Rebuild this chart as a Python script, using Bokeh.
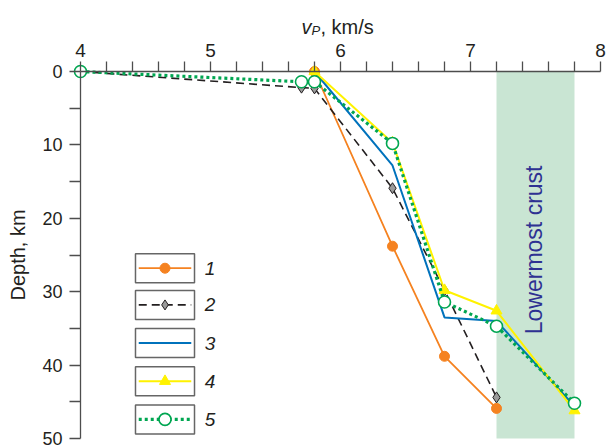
from bokeh.plotting import figure
from bokeh.models import Range1d, Label, FixedTicker
from bokeh.embed import file_html
from bokeh.resources import INLINE
from bokeh.core.properties import value

# ---- data ----
vel1 = [5.8, 6.4, 6.8, 7.2]
dep1 = [0.0, 23.8, 38.8, 45.9]
vel2 = [4.0, 5.7, 5.8, 6.4, 6.8, 7.2]
dep2 = [0.0, 2.2, 2.3, 15.9, 29.8, 44.4]
vel3 = [5.8, 6.4, 6.8, 7.2, 7.8]
dep3 = [0.0, 12.8, 33.5, 34.0, 45.6]
vel4 = [5.8, 6.4, 6.8, 7.2, 7.8]
dep4 = [0.0, 9.7, 29.8, 32.6, 46.2]
vel5 = [4.0, 5.7, 5.8, 6.4, 6.8, 7.2, 7.8]
dep5 = [0.0, 1.4, 1.4, 9.8, 31.4, 34.7, 45.2]

band_left = [7.2]
band_right = [7.8]
band_top = [0.0]
band_bottom = [50.0]

x_ticks = [4, 5, 6, 7, 8]
x_minor = [4.2, 4.4, 4.6, 4.8, 5.2, 5.4, 5.6, 5.8, 6.2, 6.4, 6.6, 6.8, 7.2, 7.4, 7.6, 7.8]
y_ticks = [0, 10, 20, 30, 40, 50]
y_minor = [5, 15, 25, 35, 45]
legend_labels = ["1", "2", "3", "4", "5"]

FONT = "Liberation Sans"
ORANGE = "#f58220"
BLACK = "#231f20"
BLUE = "#0072bc"
YELLOW = "#fff200"
GREEN = "#00a651"
AXIS = "#4d4d4d"

W, H = 610, 447
# axis box in pixels: x 4..8 -> 80..600, depth 0..50 -> 71..438
px_x0, px_x1, px_y0, px_y1 = 80.0, 600.0, 71.0, 438.0
sx = (px_x1 - px_x0) / 4.0
sy = (px_y1 - px_y0) / 50.0
xr = Range1d(4 - px_x0 / sx, 4 + (W - px_x0) / sx)
yr = Range1d((H - px_y0) / sy, -px_y0 / sy)

p = figure(width=W, height=H, output_backend="svg", toolbar_location=None,
           x_axis_location="above", x_range=xr, y_range=yr,
           min_border_left=0, min_border_right=0, min_border_top=0, min_border_bottom=0)
p.outline_line_color = None
p.grid.visible = False
p.background_fill_color = "white"
p.border_fill_color = "white"

# band
p.quad(left=band_left, right=band_right, top=band_top, bottom=band_bottom,
       fill_color="#c9e5d3", line_color=None, level="underlay")

# axes (fixed inside the full-canvas frame)
xa = p.xaxis[0]
xa.ticker = FixedTicker(ticks=x_ticks, minor_ticks=x_minor)
xa.fixed_location = 0
xa.bounds = (4, 8)
ya = p.yaxis[0]
ya.ticker = FixedTicker(ticks=y_ticks, minor_ticks=y_minor)
ya.fixed_location = 4
ya.bounds = (0, 50)
for ax in (xa, ya):
    ax.axis_line_color = AXIS
    ax.axis_line_width = 1.3
    ax.major_tick_line_color = AXIS
    ax.minor_tick_line_color = AXIS
    ax.major_tick_line_width = 1.3
    ax.minor_tick_line_width = 1.3
    ax.major_tick_in = 0
    ax.minor_tick_in = 0
    ax.major_label_text_font = FONT
    ax.major_label_text_color = BLACK
xa.major_label_text_font_size = "19px"
ya.major_label_text_font_size = "18px"
xa.major_tick_out = 10
xa.minor_tick_out = 10
xa.major_label_standoff = 5
ya.major_tick_out = 11
ya.minor_tick_out = 11
ya.major_label_standoff = 7
ya.axis_label = "Depth, km"
ya.axis_label_text_font = FONT
ya.axis_label_text_font_size = "20px"
ya.axis_label_text_font_style = "normal"
ya.axis_label_text_color = BLACK
ya.axis_label_standoff = 10

# series
p.line(vel1, dep1, line_color=ORANGE, line_width=1.8)
p.scatter(vel1, dep1, marker="circle", size=10, fill_color=ORANGE, line_color=ORANGE)

p.line(vel2, dep2, line_color=BLACK, line_width=1.6, line_dash="8 5")
p.scatter(vel2, dep2, marker="diamond", size=11, fill_color="#9a9a9a", line_color=BLACK, line_width=1)

p.line(vel3, dep3, line_color=BLUE, line_width=2)

p.line(vel4, dep4, line_color=YELLOW, line_width=2)
p.scatter(vel4, dep4, marker="triangle", size=11, fill_color=YELLOW, line_color=YELLOW)

p.line(vel5, dep5, line_color=GREEN, line_width=3.2, line_dash="3 3")
p.scatter(vel5, dep5, marker="circle", size=12, fill_color="white", line_color=GREEN, line_width=1.6)

# band label
p.add_layout(Label(x=7.49, y=24.3, text="Lowermost crust", angle=1.5708,
                   text_align="center", text_baseline="middle",
                   text_font=FONT, text_font_size="23px", text_color="#2e3192"))

# x-axis title  v_P, km/s
p.add_layout(Label(x=5.70, y=-6.0, text="v", text_font=FONT, text_font_size="20px",
                   text_font_style="italic", text_color=BLACK, text_baseline="alphabetic"))
p.add_layout(Label(x=5.777, y=-5.6, text="P", text_font=FONT, text_font_size="13px",
                   text_font_style="italic", text_color=BLACK, text_baseline="alphabetic"))
p.add_layout(Label(x=5.846, y=-6.0, text=", km/s", text_font=FONT, text_font_size="20px",
                   text_color=BLACK, text_baseline="alphabetic"))

# legend (drawn manually)
leg_x0, leg_x1 = 4.423, 4.877
leg_xc = (leg_x0 + leg_x1) / 2
leg_y = [26.8, 31.8, 37.0, 42.2, 47.4]
leg_h = 3.95
leg_w = leg_x1 - leg_x0
p.rect(x=[leg_xc] * 5, y=leg_y, width=leg_w, height=leg_h,
       fill_color="white", line_color="#666666", line_width=1.5)
lx = [leg_x0 + 0.025, leg_x1 - 0.025]
styles = [
    dict(line_color=ORANGE, line_width=1.8),
    dict(line_color=BLACK, line_width=1.6, line_dash="8 5"),
    dict(line_color=BLUE, line_width=2),
    dict(line_color=YELLOW, line_width=2),
    dict(line_color=GREEN, line_width=3.2, line_dash="3 3"),
]
for yy, st in zip(leg_y, styles):
    p.line(lx, [yy, yy], **st)
p.scatter([leg_xc], [leg_y[0]], marker="circle", size=10, fill_color=ORANGE, line_color=ORANGE)
p.scatter([leg_xc], [leg_y[1]], marker="diamond", size=10, fill_color="#9a9a9a", line_color=BLACK)
p.scatter([leg_xc], [leg_y[3]], marker="triangle", size=11, fill_color=YELLOW, line_color=YELLOW)
p.scatter([leg_xc], [leg_y[4]], marker="circle", size=12, fill_color="white", line_color=GREEN, line_width=1.6)
p.text(x=[4.955] * 5, y=leg_y, text=legend_labels, text_font=value(FONT),
       text_font_size="19px", text_font_style="italic", text_color=BLACK,
       text_baseline="middle", text_align="left")

open("out.html", "w").write(file_html(p, INLINE))
